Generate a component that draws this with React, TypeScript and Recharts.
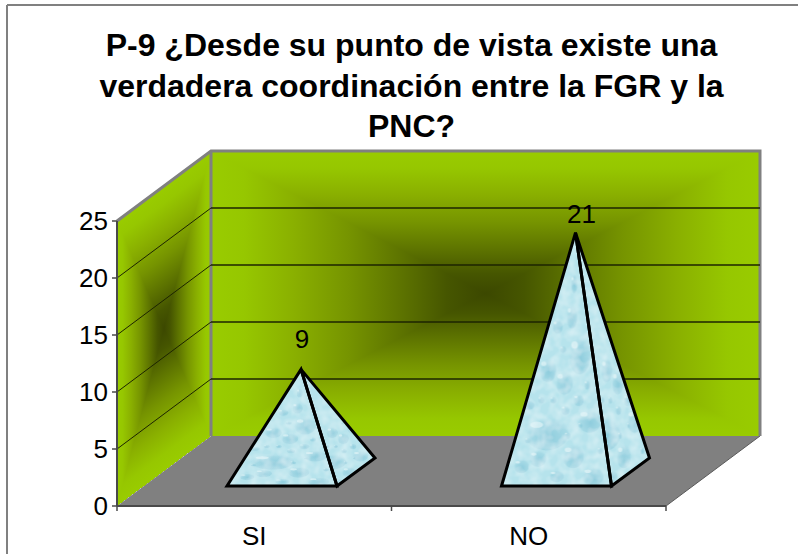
import React from 'react';
import { BarChart, Bar, XAxis, YAxis, CartesianGrid, LabelList, usePlotArea } from 'recharts';

const titleLines = [
  'P-9 ¿Desde su punto de vista existe una',
  'verdadera coordinación entre la FGR y la',
  'PNC?',
];
const categories = ['SI', 'NO'];
const answers = [9, 21];
const valueTicks = [0, 5, 10, 15, 20, 25];

const rows = categories.map((label, i) => ({ label, value: answers[i] }));

const FONT = '"Liberation Sans", Arial, sans-serif';
const LIME = '#99cc00';
const GREY = '#808080';
const AXIS = '#4a4a4a';

// how far the back wall sits behind the axis plane
const DEPTH_X = 94;
const DEPTH_Y = 70;

// wall shading, from the dark middle out to the edge
const wallStops: [number, string][] = [
  [0, '#3c4800'],
  [0.14, '#465600'],
  [0.3, '#5c7200'],
  [0.5, '#769400'],
  [0.7, '#8ab000'],
  [0.88, '#96c700'],
  [1, LIME],
];

// water drops of the pyramid texture, in a 100x100 box stretched over each face
const drops: [number, number, number, number][] = [
  [41, 79, 20, 7],
  [71, 48, 10, 8],
  [57, 59, 8, 5],
  [42, 54, 8, 5],
  [80, 74, 11, 5],
  [65, 88, 10, 5],
  [33, 89, 8, 3.5],
  [83, 96, 10, 4],
  [64, 33, 5, 5],
  [51, 37, 5, 3],
  [18, 92, 7, 3],
  [50, 96, 7, 2.5],
  [25, 68, 5, 2],
  [58, 70, 4, 2],
  [70, 66, 5, 2.5],
  [47, 66, 3, 1.5],
  [66, 20, 3, 4],
  [56, 46, 3, 1.5],
  [36, 66, 3, 1.5],
  [78, 60, 3, 2],
  [60, 80, 3, 1.5],
  [24, 82, 3, 1.2],
  [90, 86, 3, 1.5],
  [72, 76, 2.5, 1.2],
];

function Panel({ id, x, y, w, h, transform }: { id: string; x: number; y: number; w: number; h: number; transform?: string }) {
  const cx = x + w / 2;
  const cy = y + h / 2;
  const stops = wallStops.map(([o, c]) => <stop key={o} offset={o} stopColor={c} />);
  // four triangles meeting in the middle give the rectangular path gradient
  return (
    <g transform={transform}>
      <defs>
        <linearGradient id={`${id}-l`} gradientUnits="userSpaceOnUse" x1={cx} y1={0} x2={x} y2={0}>
          {stops}
        </linearGradient>
        <linearGradient id={`${id}-r`} gradientUnits="userSpaceOnUse" x1={cx} y1={0} x2={x + w} y2={0}>
          {stops}
        </linearGradient>
        <linearGradient id={`${id}-t`} gradientUnits="userSpaceOnUse" x1={0} y1={cy} x2={0} y2={y}>
          {stops}
        </linearGradient>
        <linearGradient id={`${id}-b`} gradientUnits="userSpaceOnUse" x1={0} y1={cy} x2={0} y2={y + h}>
          {stops}
        </linearGradient>
      </defs>
      <g shapeRendering="crispEdges">
        <polygon points={`${x},${y} ${x + w},${y} ${cx},${cy}`} fill={`url(#${id}-t)`} />
        <polygon points={`${x},${y + h} ${x + w},${y + h} ${cx},${cy}`} fill={`url(#${id}-b)`} />
        <polygon points={`${x},${y} ${x},${y + h} ${cx},${cy}`} fill={`url(#${id}-l)`} />
        <polygon points={`${x + w},${y} ${x + w},${y + h} ${cx},${cy}`} fill={`url(#${id}-r)`} />
      </g>
    </g>
  );
}

function Walls() {
  const plot = usePlotArea();
  if (!plot) return null;
  const left = plot.x;
  const right = plot.x + plot.width;
  const top = plot.y;
  const bottom = plot.y + plot.height;
  const backLeft = left + DEPTH_X;
  const backRight = right + DEPTH_X;
  const backTop = top - DEPTH_Y;
  const backBottom = bottom - DEPTH_Y;
  return (
    <g>
      <polygon
        points={`${left},${bottom} ${right},${bottom} ${backRight},${backBottom} ${backLeft},${backBottom}`}
        fill={GREY}
      />
      <line x1={right} y1={bottom} x2={backRight} y2={backBottom} stroke="#5a5a5a" strokeWidth={1} />
      <Panel id="back" x={backLeft} y={backTop} w={plot.width} h={plot.height} />
      <Panel
        id="side"
        x={0}
        y={0}
        w={DEPTH_X}
        h={plot.height}
        transform={`matrix(1 ${-DEPTH_Y / DEPTH_X} 0 1 ${left} ${top})`}
      />
      <polyline
        points={`${left},${top} ${backLeft},${backTop} ${backRight},${backTop} ${backRight},${backBottom}`}
        fill="none"
        stroke={GREY}
        strokeWidth={3}
      />
      <line x1={backLeft} y1={backTop} x2={backLeft} y2={backBottom} stroke={GREY} strokeWidth={3} />
    </g>
  );
}

// one grid line runs along the side wall and then across the back wall
function WallGridLine(props: any) {
  const { x1, x2, y1, index } = props;
  if (index === 0 || index === valueTicks.length - 1) return <g key={props.key} />;
  const y = y1 - DEPTH_Y;
  return (
    <g key={props.key} stroke="#1c2400" fill="none">
      <line x1={x1} y1={y1} x2={x1 + DEPTH_X} y2={y} strokeWidth={1} />
      <line x1={x1 + DEPTH_X} y1={y} x2={x2 + DEPTH_X} y2={y} strokeWidth={1.3} />
    </g>
  );
}

function Pyramid(props: any) {
  const { x, y, width } = props;
  const axisY = y + props.height;
  // the base stands between the front and the back of the floor
  const frontLeft = [x + 28, axisY - 20];
  const frontRight = [x + width + 28, axisY - 20];
  const backRight = [x + width + 66, axisY - 48];
  const apex = [x + width / 2 + 47, y - 34];
  const pts = (...list: number[][]) => list.map((p) => p.join(',')).join(' ');
  const side = pts(frontRight, backRight, apex);
  const front = pts(frontLeft, frontRight, apex);
  return (
    <g>
      <g filter="url(#mottle)">
        <polygon points={side} fill="url(#waterDrops)" />
        <polygon points={front} fill="url(#waterDrops)" />
      </g>
      <g stroke="#000" strokeWidth={3} strokeLinejoin="miter" strokeMiterlimit={3} fill="none">
        <polygon points={side} />
        <polygon points={front} />
      </g>
    </g>
  );
}

function ValueLabel(props: any) {
  const { x, y, width, value, index } = props;
  const lift = index === 0 ? 21 : 10;
  const nudge = index === 0 ? 1 : 6;
  return (
    <text
      x={x + width / 2 + 47 + nudge}
      y={y - 34 - lift}
      textAnchor="middle"
      fontFamily={FONT}
      fontSize={26}
      fill="#000"
    >
      {value}
    </text>
  );
}

function CategoryTick(props: any) {
  const { x, y, payload, index } = props;
  const plot = usePlotArea();
  const band = plot ? plot.width / categories.length : 0;
  return (
    <g>
      <line x1={x - band / 2} y1={y - 8} x2={x - band / 2} y2={y - 3} stroke={AXIS} strokeWidth={1.5} />
      {index === categories.length - 1 && (
        <line x1={x + band / 2} y1={y - 8} x2={x + band / 2} y2={y - 3} stroke={AXIS} strokeWidth={1.5} />
      )}
      <text x={x} y={545} textAnchor="middle" fontFamily={FONT} fontSize={26} fill="#000">
        {payload.value}
      </text>
    </g>
  );
}

export default function App() {
  return (
    <div style={{ position: 'absolute', left: 0, top: 0, width: 798, height: 554, background: '#fff', overflow: 'hidden' }}>
      <BarChart
        width={798}
        height={554}
        data={rows}
        margin={{ top: 221, right: 132, bottom: 18, left: 77 }}
      >
        <defs>
          <radialGradient id="dropFill" cx="0.55" cy="0.62" r="0.6">
            <stop offset="0" stopColor="#8ccbdc" stopOpacity={0.95} />
            <stop offset="0.7" stopColor="#a0d6e3" stopOpacity={0.75} />
            <stop offset="1" stopColor="#b6e3ec" stopOpacity={0} />
          </radialGradient>
          <pattern id="waterDrops" width="1" height="1" patternContentUnits="objectBoundingBox">
            <g transform="scale(0.01)">
              <rect x={0} y={0} width={100} height={100} fill="#b6e3ec" />
              {drops.map(([cx, cy, rx, ry], i) => (
                <g key={i}>
                  <ellipse cx={cx} cy={cy} rx={rx} ry={ry} fill="url(#dropFill)" />
                  <ellipse cx={cx - rx * 0.45} cy={cy - ry * 0.45} rx={rx * 0.3} ry={ry * 0.18} fill="#e4f6f9" opacity={0.7} />
                </g>
              ))}
            </g>
          </pattern>
          <filter id="mottle" x="0" y="0" width="1" height="1">
            <feTurbulence type="fractalNoise" baseFrequency="0.1" numOctaves={2} seed={4} />
            <feColorMatrix type="matrix" values="0 0 0 0 0.86  0 0 0 0 0.95  0 0 0 0 0.97  0.9 0 0 0 -0.3" />
            <feComposite in2="SourceAlpha" operator="in" result="spots" />
            <feMerge>
              <feMergeNode in="SourceGraphic" />
              <feMergeNode in="spots" />
            </feMerge>
          </filter>
        </defs>
        <line x1={7} y1={5} x2={798} y2={5} stroke={GREY} strokeWidth={2} />
        <line x1={7} y1={5} x2={7} y2={554} stroke={GREY} strokeWidth={2} />
        {titleLines.map((line, i) => (
          <text key={line} x={411.5} y={56 + i * 40.5} textAnchor="middle" fontFamily={FONT} fontWeight="bold" fontSize={32} fill="#000">
            {line}
          </text>
        ))}
        <Walls />
        <CartesianGrid vertical={false} horizontal={WallGridLine} zIndex={1} />
        <XAxis
          dataKey="label"
          height={30}
          tick={<CategoryTick />}
          tickLine={false}
          axisLine={{ stroke: AXIS, strokeWidth: 2 }}
          interval={0}
        />
        <YAxis
          width={40}
          domain={[0, 25]}
          ticks={valueTicks}
          tickSize={5}
          tickMargin={4}
          tick={{ fontSize: 26, fontFamily: FONT, fill: '#000' }}
          tickLine={{ stroke: AXIS, strokeWidth: 1.5 }}
          axisLine={{ stroke: AXIS, strokeWidth: 2 }}
        />
        <Bar dataKey="value" barSize={110} shape={Pyramid} isAnimationActive={false}>
          <LabelList dataKey="value" content={ValueLabel} />
        </Bar>
      </BarChart>
    </div>
  );
}
